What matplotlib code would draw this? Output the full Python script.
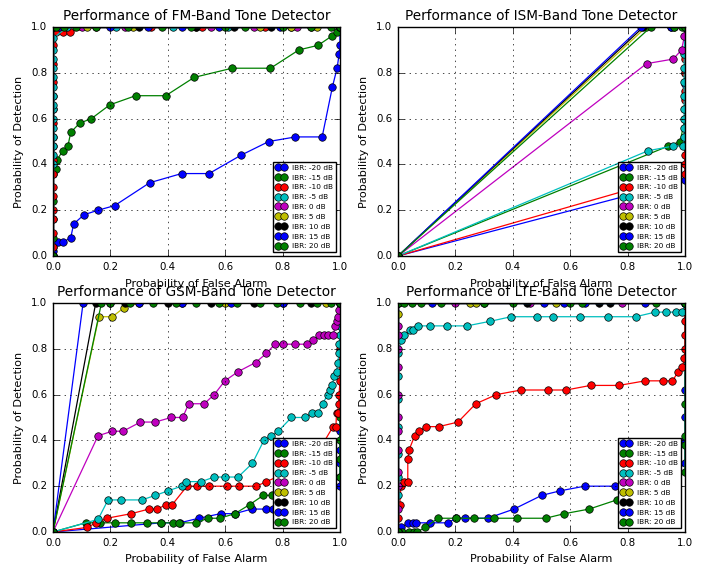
import matplotlib
matplotlib.use('Agg')
import matplotlib.pyplot as plt

ibr_labels = ['IBR: -20 dB', 'IBR: -15 dB', 'IBR: -10 dB', 'IBR: -5 dB', 'IBR: 0 dB',
              'IBR: 5 dB', 'IBR: 10 dB', 'IBR: 15 dB', 'IBR: 20 dB']
titles = ['Performance of FM-Band Tone Detector', 'Performance of ISM-Band Tone Detector',
          'Performance of GSM-Band Tone Detector', 'Performance of LTE-Band Tone Detector']

# FM band: one x list and one y list per IBR value
fm_x = [
    [0, 0, 0, 0.005, 0.017, 0.035, 0.062, 0.072, 0.108, 0.157, 0.215, 0.337, 0.448, 0.544, 0.655, 0.752, 0.845, 0.938, 0.974, 0.99, 0.997, 1.0, 1.0],
    [0, 0, 0, 0, 0, 0.009, 0.014, 0.035, 0.052, 0.062, 0.093, 0.134, 0.198, 0.288, 0.393, 0.492, 0.624, 0.758, 0.857, 0.924, 0.971, 0.99, 1.0],
    [0, 0, 0, 0, 0, 0, 0, 0, 0, 0, 0, 0, 0, 0, 0, 0, 0, 0, 0.012, 0.035, 0.06, 0.15, 0.34, 0.52, 0.74, 0.9, 1.0],
    [0, 0, 0, 0, 0, 0, 0, 0, 0, 0, 0, 0, 0, 0, 0, 0, 0.05, 0.22, 0.42, 0.61, 0.83, 1.0],
    [0, 0, 0.1, 0.25, 0.55, 0.7, 0.85, 1.0],
    [0, 0, 0.12, 0.28, 0.5, 0.72, 0.83, 0.92, 1.0],
    [0, 0, 0.3, 0.5, 0.63, 0.76, 1.0],
    [0, 0, 0.02, 0.2, 0.33, 0.45, 0.58, 0.79, 1.0],
    [0, 0, 0.01, 0.04, 0.08, 0.15, 0.26, 0.38, 0.48, 0.6, 0.67, 0.8, 0.9, 0.97, 1.0],
]
fm_y = [
    [0, 0.02, 0.04, 0.06, 0.06, 0.06, 0.08, 0.14, 0.18, 0.2, 0.22, 0.32, 0.36, 0.36, 0.44, 0.5, 0.52, 0.52, 0.74, 0.82, 0.88, 0.92, 1.0],
    [0, 0.08, 0.16, 0.24, 0.36, 0.38, 0.42, 0.46, 0.48, 0.54, 0.58, 0.6, 0.66, 0.7, 0.7, 0.78, 0.82, 0.82, 0.9, 0.92, 0.96, 0.98, 1.0],
    [0, 0.04, 0.1, 0.16, 0.2, 0.26, 0.3, 0.36, 0.42, 0.48, 0.52, 0.58, 0.64, 0.7, 0.76, 0.84, 0.92, 0.98, 0.98, 0.98, 0.98, 1.0, 1.0, 1.0, 1.0, 1.0, 1.0],
    [0, 0.4, 0.44, 0.48, 0.52, 0.56, 0.6, 0.64, 0.66, 0.7, 0.74, 0.78, 0.82, 0.86, 0.9, 0.95, 1.0, 1.0, 1.0, 1.0, 1.0, 1.0],
    [0, 1.0, 1.0, 1.0, 1.0, 1.0, 1.0, 1.0],
    [0, 1.0, 1.0, 1.0, 1.0, 1.0, 1.0, 1.0, 1.0],
    [0, 1.0, 1.0, 1.0, 1.0, 1.0, 1.0],
    [0, 1.0, 1.0, 1.0, 1.0, 1.0, 1.0, 1.0, 1.0],
    [0, 1.0, 1.0, 1.0, 1.0, 1.0, 1.0, 1.0, 1.0, 1.0, 1.0, 1.0, 1.0, 1.0, 1.0],
]

# ISM band
ism_x = [
    [0, 1.0, 1.0, 1.0, 1.0],
    [0, 0.942, 0.983, 1.0, 1.0, 1.0],
    [0, 1.0, 1.0, 1.0, 1.0, 1.0, 1.0, 1.0, 1.0, 1.0, 1.0, 1.0, 1.0, 1.0, 1.0],
    [0, 0.872, 0.959, 0.994, 0.997, 0.997, 0.997, 0.997, 0.997, 0.997, 0.997, 0.997, 1.0],
    [0, 0.866, 0.959, 0.988, 0.998, 1.0],
    [0, 0.865, 0.96, 1.0],
    [0, 0.855, 0.95, 1.0],
    [0, 0.847, 0.95, 1.0],
    [0, 0.881, 0.96, 0.99, 1.0],
]
ism_y = [
    [0, 0.33, 0.5, 0.75, 1.0],
    [0, 0.48, 0.5, 0.6, 0.8, 1.0],
    [0, 0.36, 0.4, 0.44, 0.48, 0.52, 0.56, 0.6, 0.64, 0.68, 0.72, 0.76, 0.8, 0.86, 1.0],
    [0, 0.46, 0.48, 0.48, 0.52, 0.56, 0.6, 0.64, 0.7, 0.76, 0.82, 0.88, 1.0],
    [0, 0.84, 0.86, 0.9, 0.96, 1.0],
    [0, 1.0, 1.0, 1.0],
    [0, 1.0, 1.0, 1.0],
    [0, 1.0, 1.0, 1.0],
    [0, 1.0, 1.0, 1.0, 1.0],
]

# GSM band
gsm_x = [
    [0, 0.378, 0.442, 0.508, 0.584, 0.634, 0.692, 0.741, 0.767, 0.85, 0.95, 1.0, 1.0, 1.0, 1.0, 1.0, 1.0],
    [0, 0.114, 0.163, 0.215, 0.271, 0.326, 0.378, 0.419, 0.44, 0.497, 0.541, 0.581, 0.634, 0.686, 0.733, 0.762, 0.85, 0.95, 1.0, 1.0, 1.0, 1.0, 1.0],
    [0, 0.119, 0.151, 0.188, 0.273, 0.334, 0.364, 0.395, 0.416, 0.467, 0.502, 0.544, 0.605, 0.647, 0.709, 0.744, 0.78, 0.9, 0.976, 0.986, 0.988, 0.992, 0.995, 0.997, 1.0, 1.0, 1.0],
    [0, 0.157, 0.192, 0.237, 0.31, 0.357, 0.402, 0.448, 0.465, 0.517, 0.562, 0.599, 0.645, 0.695, 0.735, 0.76, 0.785, 0.831, 0.878, 0.903, 0.924, 0.94, 0.957, 0.965, 0.973, 0.98, 0.988, 0.992, 0.997, 0.998, 1.0, 1.0, 1.0],
    [0, 0.157, 0.206, 0.244, 0.305, 0.356, 0.412, 0.452, 0.473, 0.527, 0.562, 0.599, 0.645, 0.706, 0.744, 0.773, 0.8, 0.843, 0.886, 0.907, 0.928, 0.944, 0.96, 0.977, 0.983, 0.99, 0.994, 0.998, 1.0],
    [0, 0.16, 0.207, 0.248, 0.3, 0.45, 0.6, 0.8, 0.95, 1.0],
    [0, 0.149, 0.25, 0.4, 0.55, 0.7, 0.9, 1.0],
    [0, 0.105, 0.2, 0.3, 0.45, 0.62, 0.8, 1.0],
    [0, 0.169, 0.2, 0.27, 0.35, 0.43, 0.5, 0.58, 0.64, 0.72, 0.78, 0.86, 0.92, 0.97, 1.0],
]
gsm_y = [
    [0, 0.04, 0.04, 0.06, 0.08, 0.08, 0.1, 0.1, 0.1, 0.12, 0.16, 0.2, 0.24, 0.3, 0.36, 0.44, 1.0],
    [0, 0.04, 0.04, 0.04, 0.04, 0.04, 0.04, 0.04, 0.04, 0.04, 0.06, 0.06, 0.08, 0.12, 0.16, 0.16, 0.18, 0.2, 0.24, 0.32, 0.4, 0.5, 1.0],
    [0, 0.02, 0.04, 0.06, 0.08, 0.1, 0.1, 0.12, 0.12, 0.2, 0.2, 0.2, 0.2, 0.2, 0.2, 0.22, 0.24, 0.3, 0.46, 0.46, 0.52, 0.52, 0.56, 0.6, 0.66, 0.8, 1.0],
    [0, 0.055, 0.14, 0.14, 0.14, 0.16, 0.18, 0.2, 0.22, 0.22, 0.24, 0.24, 0.24, 0.3, 0.4, 0.42, 0.44, 0.5, 0.5, 0.52, 0.52, 0.56, 0.6, 0.62, 0.64, 0.68, 0.7, 0.74, 0.78, 0.82, 0.86, 0.9, 1.0],
    [0, 0.42, 0.44, 0.44, 0.48, 0.48, 0.5, 0.5, 0.56, 0.56, 0.6, 0.66, 0.7, 0.74, 0.78, 0.82, 0.82, 0.82, 0.82, 0.84, 0.86, 0.86, 0.86, 0.86, 0.9, 0.92, 0.94, 0.97, 1.0],
    [0, 0.94, 0.94, 0.98, 1.0, 1.0, 1.0, 1.0, 1.0, 1.0],
    [0, 1.0, 1.0, 1.0, 1.0, 1.0, 1.0, 1.0],
    [0, 1.0, 1.0, 1.0, 1.0, 1.0, 1.0, 1.0],
    [0, 1.0, 1.0, 1.0, 1.0, 1.0, 1.0, 1.0, 1.0, 1.0, 1.0, 1.0, 1.0, 1.0, 1.0],
]

# LTE band
lte_x = [
    [0, 0.012, 0.035, 0.051, 0.064, 0.113, 0.174, 0.202, 0.234, 0.313, 0.404, 0.501, 0.566, 0.65, 0.756, 0.85, 0.95, 1.0, 1.0, 1.0, 1.0, 1.0],
    [0, 0.014, 0.037, 0.055, 0.066, 0.095, 0.139, 0.202, 0.263, 0.336, 0.416, 0.514, 0.58, 0.666, 0.762, 0.85, 0.95, 1.0, 1.0, 1.0, 1.0, 1.0],
    [0, 0, 0.006, 0.01, 0.021, 0.034, 0.034, 0.039, 0.058, 0.074, 0.097, 0.142, 0.209, 0.271, 0.343, 0.429, 0.522, 0.586, 0.671, 0.77, 0.861, 0.925, 0.956, 0.977, 0.991, 0.998, 1.0, 1.0, 1.0, 1.0],
    [0, 0, 0, 0, 0, 0, 0, 0, 0.012, 0.02, 0.043, 0.052, 0.07, 0.113, 0.171, 0.24, 0.321, 0.394, 0.484, 0.539, 0.634, 0.731, 0.828, 0.896, 0.933, 0.968, 0.991, 1.0],
    [0, 0, 0, 0, 0, 0, 0, 0, 0, 0, 0, 0, 0, 0.2, 0.46, 0.78, 1.0],
    [0, 0, 0, 0.25, 0.27, 0.55, 1.0],
    [0, 0, 0.3, 0.45, 0.7, 0.74, 1.0],
    [0, 0, 0.12, 0.51, 0.58, 0.65, 0.86, 1.0],
    [0, 0, 0.02, 0.05, 0.08, 0.15, 0.3, 0.4, 0.6, 0.64, 0.9, 1.0],
]
lte_y = [
    [0, 0.02, 0.04, 0.04, 0.04, 0.04, 0.04, 0.06, 0.06, 0.06, 0.1, 0.16, 0.18, 0.2, 0.2, 0.22, 0.24, 0.3, 0.4, 0.5, 0.62, 1.0],
    [0, 0, 0, 0, 0, 0.02, 0.06, 0.06, 0.06, 0.06, 0.06, 0.06, 0.08, 0.1, 0.14, 0.18, 0.22, 0.26, 0.38, 0.42, 0.56, 1.0],
    [0, 0.06, 0.12, 0.2, 0.22, 0.22, 0.32, 0.36, 0.42, 0.44, 0.46, 0.46, 0.48, 0.56, 0.6, 0.62, 0.62, 0.62, 0.64, 0.64, 0.66, 0.66, 0.66, 0.7, 0.72, 0.76, 0.8, 0.86, 0.92, 1.0],
    [0, 0.16, 0.24, 0.34, 0.46, 0.58, 0.68, 0.78, 0.84, 0.86, 0.88, 0.88, 0.9, 0.9, 0.9, 0.9, 0.92, 0.94, 0.94, 0.94, 0.94, 0.94, 0.94, 0.96, 0.96, 0.96, 0.96, 1.0],
    [0, 0.1, 0.2, 0.26, 0.36, 0.44, 0.5, 0.6, 0.72, 0.8, 0.86, 0.9, 1.0, 1.0, 1.0, 1.0, 1.0],
    [0, 0.95, 1.0, 1.0, 1.0, 1.0, 1.0],
    [0, 1.0, 1.0, 1.0, 1.0, 1.0, 1.0],
    [0, 1.0, 1.0, 1.0, 1.0, 1.0, 1.0, 1.0],
    [0, 1.0, 1.0, 1.0, 1.0, 1.0, 1.0, 1.0, 1.0, 1.0, 1.0, 1.0],
]

plt.style.use('classic')
colors = ['b', 'g', 'r', 'c', 'm', 'y', 'k', 'b', 'g']

fig = plt.figure(figsize=(7.1, 5.66), dpi=100, facecolor='white')
boxes = [[0.0746, 0.5477, 0.4042, 0.4046], [0.5606, 0.5477, 0.4042, 0.4046],
         [0.0746, 0.0601, 0.4042, 0.4046], [0.5606, 0.0601, 0.4042, 0.4046]]
panels = [(fm_x, fm_y), (ism_x, ism_y), (gsm_x, gsm_y), (lte_x, lte_y)]

for box, (xs, ys), title in zip(boxes, panels, titles):
    ax = fig.add_axes(box)
    for x, y, c, lab in zip(xs, ys, colors, ibr_labels):
        ax.plot(x, y, 'o-', color=c, label=lab, lw=0.9, ms=5.4, mec='k', mew=0.5)
    ax.set_xlim(0, 1)
    ax.set_ylim(0, 1)
    ax.grid(True)
    ax.tick_params(labelsize=7.4)
    ax.set_title(title, fontsize=9.8)
    ax.set_xlabel('Probability of False Alarm', fontsize=8.1)
    ax.set_ylabel('Probability of Detection', fontsize=8.1)
    ax.legend(loc='lower right', fontsize=5.3, numpoints=2, handlelength=1.4,
              borderaxespad=0.5)

fig.savefig('out.png', dpi=100, facecolor='white')
